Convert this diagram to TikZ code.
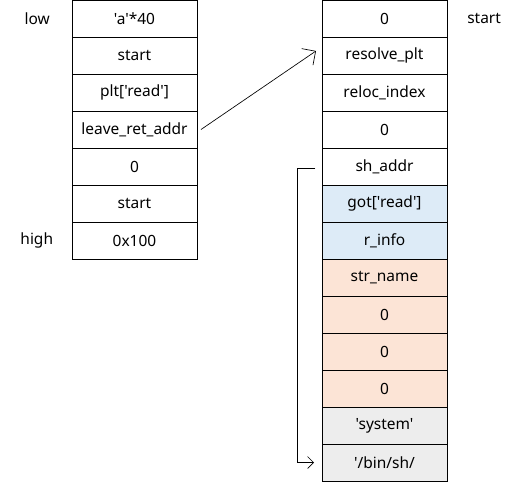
\documentclass[tikz,border=0pt]{standalone}
\usepackage{fontspec}
\setmainfont{Noto Sans}[Ligatures=TeXOff]
\usetikzlibrary{positioning,arrows.meta}
\definecolor{gotblue}{HTML}{DDEBF7}
\definecolor{symorange}{HTML}{FCE4D6}
\definecolor{strgrey}{HTML}{EDEDED}
\tikzset{
    cell/.style={draw, line width=0.75pt, minimum width=93.75pt, minimum height=27.75pt,
        inner sep=0pt, outer sep=0pt, font=\fontsize{11.6}{13}\selectfont},
    side/.style={inner sep=0pt, font=\fontsize{11.6}{13}\selectfont},
    link/.style={line width=0.5pt, line join=miter},
}
\begin{document}
\begin{tikzpicture}[x=0.75pt, y=0.75pt]
        \useasboundingbox (0,0) rectangle (521,-483);
        \node[cell] (l1) at (134.5,-18.5) {'a'*40};
        \node[cell, below=0pt of l1] (l2) {start};
        \node[cell, below=0pt of l2] (l3) {plt['read']};
        \node[cell, below=0pt of l3] (l4) {leave\_ret\_addr};
        \node[cell, below=0pt of l4] (l5) {0};
        \node[cell, below=0pt of l5] (l6) {start};
        \node[cell, below=0pt of l6] (l7) {0x100};
        \node[side, left=16.5pt of l1] (low) {low};
        \node[side, left=14pt of l7] (high) {high};

        \node[cell] (r1) at (384.5,-18.5) {0};
        \node[cell, below=0pt of r1] (r2) {resolve\_plt};
        \node[cell, below=0pt of r2] (r3) {reloc\_index};
        \node[cell, below=0pt of r3] (r4) {0};
        \node[cell, below=0pt of r4] (r5) {sh\_addr};
        \node[cell, fill=gotblue, below=0pt of r5] (r6) {got['read']};
        \node[cell, fill=gotblue, below=0pt of r6] (r7) {r\_info};
        \node[cell, fill=symorange, below=0pt of r7] (r8) {str\_name};
        \node[cell, fill=symorange, below=0pt of r8] (r9) {0};
        \node[cell, fill=symorange, below=0pt of r9] (r10) {0};
        \node[cell, fill=symorange, below=0pt of r10] (r11) {0};
        \node[cell, fill=strgrey, below=0pt of r11] (r12) {'system'};
        \node[cell, fill=strgrey, below=0pt of r12] (r13) {'/bin/sh/};
        \node[side, right=15pt of r1] (top) {start};

        \coordinate (ret) at ([xshift=3pt]l4.east);
        \coordinate (plt) at ([xshift=-4.5pt, yshift=3.4pt]r2.west);
        \coordinate (sh) at ([xshift=-5pt, yshift=-1pt]r5.west);
        \coordinate (binsh) at ([xshift=-6pt]r13.west);
        \draw[link, -{Straight Barb[length=7.5pt, width=15pt]}] (ret) -- (plt);
        \draw[link, -{Straight Barb[length=4.5pt, width=9pt]}] (sh) -- ++(-13.5pt,0) |- (binsh);
\end{tikzpicture}
\end{document}
